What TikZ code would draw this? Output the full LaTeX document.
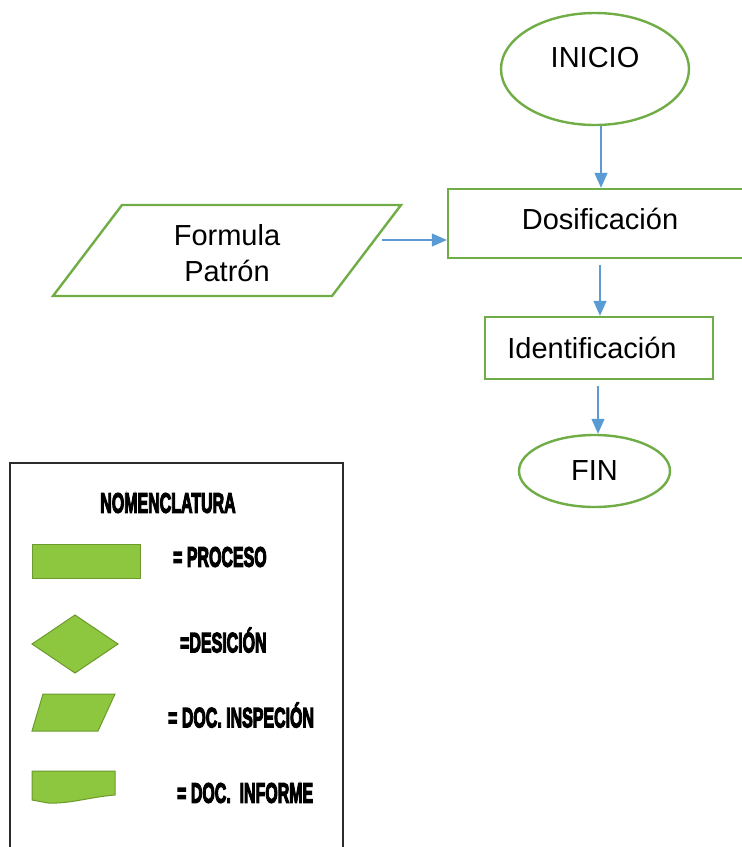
\documentclass[tikz,border=0pt]{standalone}
\usepackage{fontspec}
\setmainfont{Liberation Sans}
\newfontfamily\legfont[FakeBold=5]{Liberation Sans Bold}
\usetikzlibrary{shapes.geometric,arrows.meta}
\definecolor{flowgreen}{HTML}{70AD47}
\definecolor{arrowblue}{HTML}{5B9BD5}
\definecolor{legfill}{HTML}{8DC63F}
\definecolor{legline}{HTML}{6C9A2C}
\definecolor{frame}{HTML}{2B2B2B}
\tikzset{
  base/.style={draw=flowgreen, line width=2.4pt, inner sep=0pt, font=\fontsize{29}{36}\selectfont},
  terminal/.style={base, ellipse},
  procbox/.style={base, rectangle},
  flow/.style={draw=arrowblue, line width=1.3pt, -{Triangle[length=15pt,width=13pt]}},
  legshape/.style={fill=legfill, draw=legline, line width=1pt},
  legtext/.style={font=\legfont\fontsize{28}{28}\selectfont, xscale=0.57, inner sep=0pt, text=black},
}
\begin{document}
\begin{tikzpicture}[x=1pt, y=-1pt]
\useasboundingbox (0,0) rectangle (742,847);
\clip (0,0) rectangle (742,847);

% flow chart
\node[terminal, minimum width=188pt, minimum height=112pt] (inicio) at (595,69) {\raisebox{24pt}{INICIO}};
\node[procbox, minimum width=304pt, minimum height=69pt] (dos) at (600,223.5) {\raisebox{10pt}{Dosificación}};
\node[procbox, minimum width=228pt, minimum height=62pt] (ide) at (599,348) {Identificación\kern14pt};
\node[terminal, minimum width=151pt, minimum height=72pt] (fin) at (594.5,471) {FIN};

% input document (parallelogram)
\draw[draw=flowgreen, line width=2.4pt, line join=miter] (122,205) -- (401,205) -- (332,296) -- (53,296) -- cycle;
\node[font=\fontsize{29}{36}\selectfont, align=center, inner sep=0pt] (form) at (227,253) {Formula\\Patrón};

% connectors
\draw[flow] ([xshift=6pt]inicio.south) -- ([xshift=6pt]inicio.south |- dos.north);
\draw[flow] ([yshift=-6pt]dos.south) -- (dos.south |- ide.north);
\draw[flow] ([xshift=-1pt,yshift=-6pt]ide.south) -- ([xshift=-1pt]ide.south |- fin.north);
\coordinate (formout) at (382,240);
\draw[flow] (formout) -- (formout -| dos.west);

% legend frame
\draw[draw=frame, line width=2.2pt] (10,860) -- (10,463) -- (343,463) -- (343,860);
\node[legtext] (nom) at (168,503) {NOMENCLATURA};

% process
\draw[legshape] (32,544) rectangle (140,578);
\node[legtext, anchor=west] (tproc) at (173,557) {= PROCESO};

% decision
\draw[legshape] (32,644) -- (75,615) -- (118,644) -- (75,673) -- cycle;
\node[legtext, anchor=west] (tdec) at (180,640) {=DESICIÓN};

% inspection document
\draw[legshape] (43,694) -- (115,694) -- (98,731) -- (32,731) -- cycle;
\node[legtext, anchor=west] (tins) at (168,715) {= DOC. INSPECIÓN};

% report document
\draw[legshape] (32,771) -- (115,771) -- (115,795)
  .. controls (90,797) and (70,804) .. (48,803) -- (32,800) -- cycle;
\node[legtext, anchor=west] (tinf) at (177,793) {= DOC. \ INFORME};
\end{tikzpicture}
\end{document}
